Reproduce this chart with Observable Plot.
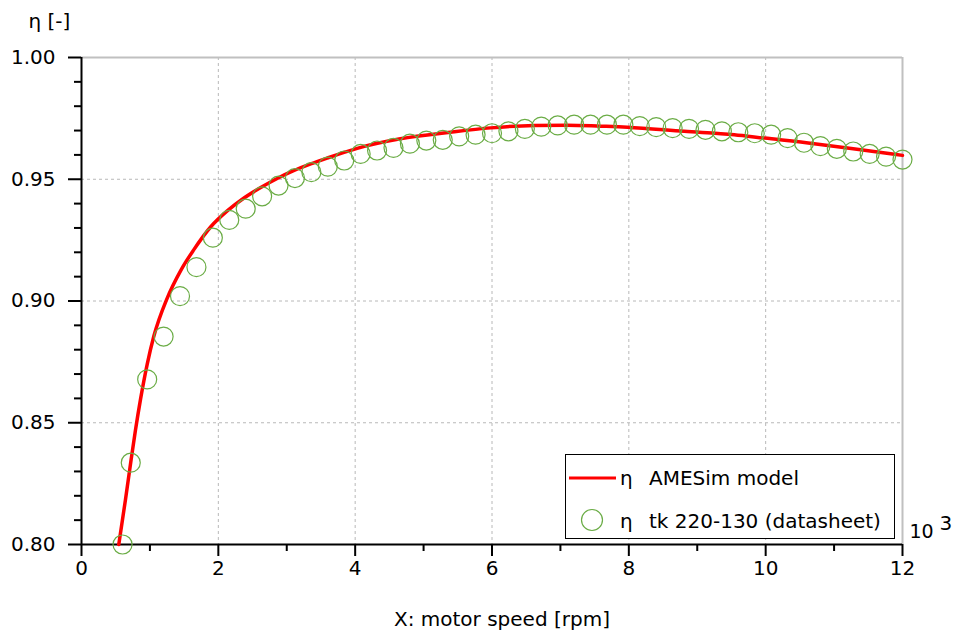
<!DOCTYPE html>
<html>
<head>
<meta charset="utf-8">
<script src="https://cdn.jsdelivr.net/npm/d3@7"></script>
<script src="https://cdn.jsdelivr.net/npm/@observablehq/plot@0.6"></script>
<style>
  html, body { margin: 0; padding: 0; background: #fff; }
  #wrap { position: relative; width: 958px; height: 636px; font-family: "DejaVu Sans", Verdana, sans-serif; }
  #legend { position: absolute; left: 565px; top: 454px; width: 330px; height: 85px; border: 1px solid #000; background: #fff; box-sizing: border-box; }
  #legend svg { position: absolute; left: 0; top: 0; }
</style>
</head>
<body>
<div id="wrap"></div>
<script>
// AMESim model curve (x in 10^3 rpm, efficiency)
const modelX = [0.545, 0.643, 0.726, 0.789, 0.863, 0.96, 1.057, 1.25, 1.45, 1.64, 1.89, 2.13, 2.37, 2.62, 2.86, 3.10, 3.35, 3.59, 4.03, 4.66, 5.39, 5.98, 6.61, 7.10, 7.59, 7.98, 8.81, 9.54, 9.98, 10.71, 11.39, 12.0];
const modelY = [0.800, 0.8185, 0.8350, 0.8470, 0.8597, 0.8740, 0.8855, 0.9010, 0.9125, 0.9210, 0.9305, 0.9370, 0.9422, 0.9466, 0.9503, 0.9535, 0.9563, 0.9587, 0.9627, 0.9666, 0.9693, 0.9711, 0.9721, 0.9722, 0.9718, 0.9714, 0.9697, 0.9683, 0.9669, 0.9646, 0.9621, 0.9598];

// Datasheet points tk 220-130
const sheetX = [0.60, 0.72, 0.96, 1.20, 1.44, 1.68, 1.92, 2.16, 2.40, 2.64, 2.88, 3.12, 3.36, 3.60, 3.84, 4.08, 4.32, 4.56, 4.80, 5.04, 5.28, 5.52, 5.76, 6.00, 6.24, 6.48, 6.72, 6.96, 7.20, 7.44, 7.68, 7.92, 8.16, 8.40, 8.64, 8.88, 9.12, 9.36, 9.60, 9.84, 10.08, 10.32, 10.56, 10.80, 11.04, 11.28, 11.52, 11.76, 12.00];
const sheetY = [0.800, 0.8336, 0.8678, 0.8854, 0.9020, 0.9139, 0.9260, 0.9333, 0.9379, 0.9430, 0.9474, 0.9505, 0.9529, 0.9552, 0.9577, 0.9604, 0.9618, 0.9629, 0.9646, 0.9659, 0.9662, 0.9676, 0.9683, 0.9689, 0.9697, 0.9707, 0.9716, 0.9721, 0.9724, 0.9724, 0.9724, 0.9724, 0.9718, 0.9714, 0.9710, 0.9707, 0.9703, 0.9697, 0.9693, 0.9689, 0.9683, 0.9669, 0.9650, 0.9636, 0.9625, 0.9614, 0.9604, 0.9593, 0.9581];

const xTicks = [0, 2, 4, 6, 8, 10, 12];
const xMinor = [1, 3, 5, 7, 9, 11];
const yTicks = [0.80, 0.85, 0.90, 0.95, 1.00];
const yMinor = [0.81, 0.82, 0.83, 0.84, 0.86, 0.87, 0.88, 0.89, 0.91, 0.92, 0.93, 0.94, 0.96, 0.97, 0.98, 0.99];
const xGrid = [2, 4, 6, 8, 10];
const yGrid = [0.85, 0.90, 0.95];

const modelData = modelX.map((x, i) => ({x, y: modelY[i]}));
const sheetData = sheetX.map((x, i) => ({x, y: sheetY[i]}));

const lineColor = "#ff0000";
const circleColor = "#6aac45";

const chart = Plot.plot({
  width: 958,
  height: 636,
  marginLeft: 81,
  marginRight: 56,
  marginTop: 57,
  marginBottom: 92,
  style: {fontFamily: "DejaVu Sans, Verdana, sans-serif", fontSize: "20px", color: "#000", background: "#fff", overflow: "visible"},
  x: {domain: [0, 12], axis: null},
  y: {domain: [0.80, 1.00], axis: null},
  marks: [
    Plot.gridX(xGrid, {stroke: "#b8b8b8", strokeOpacity: 1, strokeDasharray: "3,3"}),
    Plot.gridY(yGrid, {stroke: "#b8b8b8", strokeOpacity: 1, strokeDasharray: "3,3"}),
    Plot.ruleY([1.00], {stroke: "#c0c0c0", strokeWidth: 2}),
    Plot.ruleX([12], {stroke: "#c0c0c0", strokeWidth: 2}),
    Plot.axisX(xTicks, {label: null, tickSize: 12, tickPadding: 4, tickFormat: d => String(d), fontSize: 20, strokeWidth: 2}),
    Plot.axisX(xMinor, {label: null, tickSize: 7, tickFormat: () => "", strokeWidth: 2}),
    Plot.axisY(yTicks, {label: null, tickSize: 13, tickPadding: 13, tickFormat: d => d.toFixed(2), fontSize: 20, strokeWidth: 2}),
    Plot.axisY(yMinor, {label: null, tickSize: 7, tickFormat: () => "", strokeWidth: 2}),
    Plot.ruleX([0], {stroke: "#000", strokeWidth: 2}),
    Plot.ruleY([0.80], {stroke: "#000", strokeWidth: 2}),
    Plot.line(modelData, {x: "x", y: "y", stroke: lineColor, strokeWidth: 3.5, curve: "monotone-x"}),
    Plot.dot(sheetData, {x: "x", y: "y", r: 9.5, stroke: circleColor, strokeWidth: 1.2, fill: "none"}),
    Plot.text(["η [-]"], {frameAnchor: "top-left", dx: -53, dy: -36, textAnchor: "start", lineAnchor: "middle", fontSize: 20}),
    Plot.text(["X: motor speed [rpm]"], {frameAnchor: "bottom", dx: 10, dy: 75, textAnchor: "middle", lineAnchor: "middle", fontSize: 20}),
    Plot.text(["10"], {frameAnchor: "bottom-right", dx: 7, dy: -13, textAnchor: "start", lineAnchor: "middle", fontSize: 19}),
    Plot.text(["3"], {frameAnchor: "bottom-right", dx: 37, dy: -21, textAnchor: "start", lineAnchor: "middle", fontSize: 20})
  ]
});

const wrap = document.getElementById("wrap");
wrap.appendChild(chart);

// Legend
const legend = document.createElement("div");
legend.id = "legend";
legend.innerHTML = `
<svg width="330" height="85" font-family="DejaVu Sans, Verdana, sans-serif" font-size="20">
  <line x1="3" x2="50" y1="23" y2="23" stroke="${lineColor}" stroke-width="3"/>
  <text x="54" y="30" fill="#000">η</text>
  <text x="83" y="30" fill="#000">AMESim model</text>
  <circle cx="26" cy="65" r="10.5" fill="none" stroke="${circleColor}" stroke-width="1.2"/>
  <text x="54" y="73" fill="#000">η</text>
  <text x="83" y="73" fill="#000">tk 220-130 (datasheet)</text>
</svg>`;
wrap.appendChild(legend);
</script>
</body>
</html>
